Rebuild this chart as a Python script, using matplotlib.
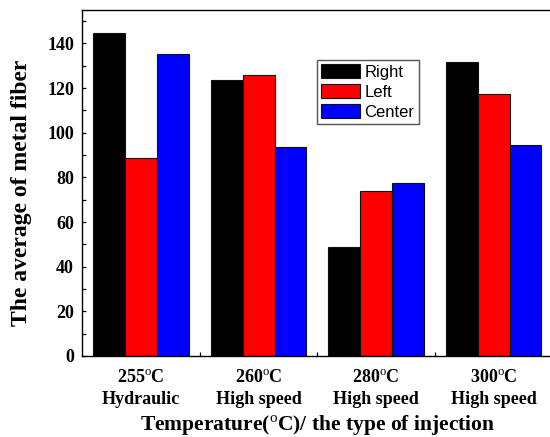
import numpy as np
import matplotlib

matplotlib.use("Agg")
import matplotlib.pyplot as plt
from matplotlib.ticker import MultipleLocator, FixedLocator

# data
temps = ["255", "260", "280", "300"]
inject_types = ["Hydraulic", "High speed", "High speed", "High speed"]
right_vals = [144.8, 123.6, 48.7, 131.7]
left_vals = [88.7, 125.9, 73.8, 117.4]
center_vals = [135.4, 93.6, 77.4, 94.6]

series = [("Right", right_vals, "#000000"),
          ("Left", left_vals, "#FF0000"),
          ("Center", center_vals, "#0000FF")]

plt.rcParams["mathtext.fontset"] = "custom"
plt.rcParams["mathtext.rm"] = "Liberation Serif"
plt.rcParams["mathtext.bf"] = "Liberation Serif:bold"

serif = "Liberation Serif"

fig = plt.figure(figsize=(5.5, 4.37), dpi=100)
ax = fig.add_axes([82.3 / 550, 81 / 437, 470 / 550, 346 / 437])

x = np.arange(len(temps))
bw = 0.272
for i, (name, vals, col) in enumerate(series):
    ax.bar(x + (i - 1) * bw, vals, width=bw, color=col, edgecolor="#111111",
           linewidth=0.8, label=name)

ax.set_xlim(-0.5, 3.5)
ax.set_ylim(0, 155)

ax.yaxis.set_major_locator(MultipleLocator(20))
ax.yaxis.set_minor_locator(MultipleLocator(10))
ax.xaxis.set_major_locator(FixedLocator(x))
ax.xaxis.set_minor_locator(FixedLocator([0.5, 1.5, 2.5]))

xlabels = [f"{t}$^{{\\rm o}}$C\n{k}" for t, k in zip(temps, inject_types)]
ax.set_xticklabels(xlabels, fontfamily=serif, fontweight="bold", fontsize=13,
                   linespacing=1.3)
for lab in ax.get_yticklabels():
    lab.set_fontfamily(serif)
    lab.set_fontweight("bold")
    lab.set_fontsize(13)

ax.tick_params(axis="y", which="both", direction="in", length=3.2, width=0.9,
               pad=6, right=False)
ax.tick_params(axis="x", which="major", length=0, pad=10)
ax.tick_params(axis="x", which="minor", direction="in", length=3.2, width=0.9,
               top=False)
for sp in ax.spines.values():
    sp.set_linewidth(1.0)

ax.set_ylabel("The average of metal fiber", fontfamily=serif, fontweight="bold",
              fontsize=17)
ax.yaxis.set_label_coords(-0.107, 0.471)
ax.set_xlabel("Temperature($^{\\rm o}$C)/ the type of injection", fontfamily=serif,
              fontweight="bold", fontsize=15.5, labelpad=4)

leg = ax.legend(loc="upper left", bbox_to_anchor=(317 / 550, 1 - 60 / 437),
                bbox_transform=fig.transFigure, borderaxespad=0,
                prop={"family": "Liberation Sans", "size": 12},
                handlelength=2.3, handleheight=0.9, handletextpad=0.3,
                labelspacing=0.25, borderpad=0.25, fancybox=False, framealpha=1)
leg.get_frame().set_edgecolor("#555555")
leg.get_frame().set_linewidth(1.0)

fig.savefig("out.png", dpi=100)
